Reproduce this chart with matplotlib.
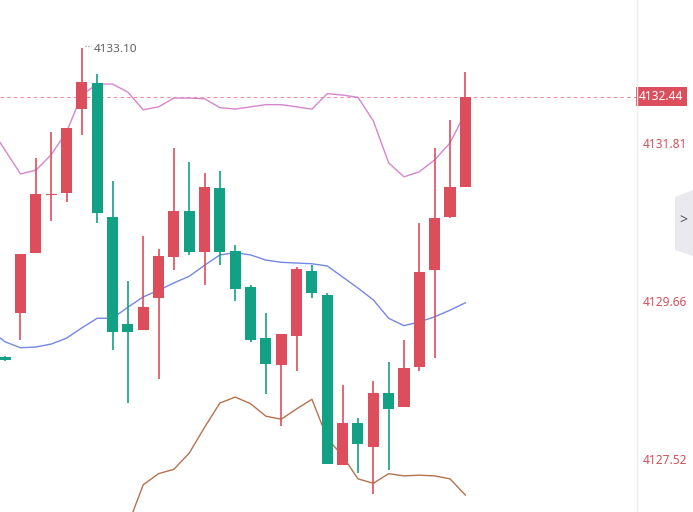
import matplotlib
matplotlib.use("Agg")
import matplotlib.pyplot as plt
import matplotlib.transforms as mtransforms
from matplotlib.patches import Rectangle, Polygon

plt.rcParams['font.family'] = ['Noto Sans', 'DejaVu Sans']

# ---- candle data (index 0 is the first full candle, -1 is cut at the left edge) ----
idx = list(range(-1, 30))
opens = [4128.90, 4129.50, 4130.32, 4131.10, 4131.13, 4132.27, 4132.62, 4130.81, 4129.35,
         4129.27, 4129.71, 4130.26, 4130.89, 4130.33, 4131.20, 4130.34, 4129.85, 4129.16,
         4128.80, 4129.19, 4130.07, 4129.75, 4127.44, 4128.01, 4127.68, 4128.42, 4128.23,
         4128.77, 4130.09, 4130.81, 4131.21]
highs = [4128.92, 4130.30, 4131.61, 4131.96, 4132.01, 4133.10, 4132.75, 4131.29, 4129.94,
         4130.55, 4130.37, 4131.74, 4131.55, 4131.40, 4131.43, 4130.43, 4129.88, 4129.50,
         4129.22, 4130.13, 4130.15, 4129.77, 4128.52, 4128.08, 4128.58, 4128.84, 4129.14,
         4130.72, 4131.74, 4132.12, 4132.77]
lows = [4128.85, 4129.14, 4130.32, 4130.75, 4131.01, 4131.92, 4130.72, 4129.00, 4128.28,
        4129.27, 4128.61, 4130.09, 4130.29, 4129.88, 4130.15, 4129.66, 4129.11, 4128.40,
        4127.97, 4128.71, 4129.71, 4127.45, 4127.44, 4127.33, 4127.05, 4127.37, 4128.23,
        4128.72, 4128.89, 4130.79, 4131.21]
closes = [4128.86, 4130.30, 4131.12, 4131.11, 4132.01, 4132.64, 4130.86, 4129.24, 4129.24,
          4129.58, 4130.28, 4130.89, 4130.33, 4131.21, 4130.33, 4129.83, 4129.14, 4128.81,
          4129.22, 4130.10, 4129.77, 4127.45, 4128.01, 4127.72, 4128.42, 4128.20, 4128.76,
          4130.06, 4130.79, 4131.21, 4132.44]

# ---- bollinger bands ----
band_idx = list(range(-2, 30))
upper = [4132.03, 4131.71, 4131.39, 4131.44, 4131.65, 4131.96, 4132.46, 4132.61, 4132.61,
         4132.50, 4132.26, 4132.30, 4132.42, 4132.42, 4132.41, 4132.29, 4132.27, 4132.30,
         4132.33, 4132.33, 4132.30, 4132.27, 4132.48, 4132.46, 4132.43, 4132.11, 4131.54,
         4131.35, 4131.42, 4131.58, 4131.81, 4132.22]
middle = [4129.27, 4129.11, 4129.03, 4129.04, 4129.08, 4129.16, 4129.30, 4129.43, 4129.43,
          4129.58, 4129.72, 4129.81, 4129.91, 4130.00, 4130.15, 4130.29, 4130.32, 4130.29,
          4130.22, 4130.19, 4130.18, 4130.17, 4130.14, 4129.99, 4129.84, 4129.68, 4129.43,
          4129.33, 4129.38, 4129.45, 4129.54, 4129.64]
lower_idx = list(range(7, 30))
lower = [4126.62, 4127.17, 4127.32, 4127.38, 4127.60, 4127.95, 4128.28, 4128.36, 4128.27,
         4128.10, 4128.06, 4128.20, 4128.33, 4127.80, 4127.56, 4127.25, 4127.19, 4127.32,
         4127.29, 4127.30, 4127.29, 4127.25, 4127.03]

tick_vals = [4131.81, 4129.66, 4127.52]
last_price = 4132.44
peak_label = '4133.10'

RED = '#dd4e5c'
GREEN = '#13a185'

fig = plt.figure(figsize=(6.93, 5.12), dpi=100)
ax = fig.add_axes([0, 0, 637 / 693, 1])

body_w = 0.72
for i, o, h, l, c in zip(idx, opens, highs, lows, closes):
    col = RED if c >= o else GREEN
    ax.vlines(i, l, h, color=col, linewidth=1.2, zorder=3)
    bot = min(o, c)
    hgt = max(abs(c - o), 0.02)
    ax.add_patch(Rectangle((i - body_w / 2, bot), body_w, hgt, facecolor=col,
                           edgecolor='none', zorder=4))

ax.plot(band_idx, upper, color='#d686cf', linewidth=1.0, zorder=2)
ax.plot(band_idx, middle, color='#7487e4', linewidth=1.0, zorder=2)
ax.plot(lower_idx, lower, color='#b5724f', linewidth=1.0, zorder=2)

# last price dashed line
ax.axhline(last_price, color='#f28c9c', linewidth=0.8, linestyle=(0, (3, 3)), zorder=1)

# peak annotation
ax.plot([4.2, 4.6], [4133.12, 4133.12], color='#888888', linewidth=0.8,
        linestyle=(0, (1, 1.5)), zorder=5)
ax.text(4.75, 4133.08, peak_label, color='#606060', fontsize=8.4, va='center', ha='left')

ax.set_xlim(-1.336, 40.19)
ax.set_ylim(4126.80, 4133.751)
for s in ax.spines.values():
    s.set_visible(False)
ax.set_xticks([])
ax.yaxis.tick_right()
ax.set_yticks(tick_vals)
ax.set_yticklabels([f'{v:.2f}' for v in tick_vals])
ax.tick_params(axis='y', length=0, pad=4, labelsize=8.6, labelcolor='#d0505c')

# separator for price axis
fig.add_artist(plt.Line2D([637 / 693, 637 / 693], [0, 1], color='#eeeeee', linewidth=1))

# last price tag
trans = mtransforms.blended_transform_factory(ax.transAxes, ax.transData)
ax.text(1.0035, last_price, f'{last_price:.2f}', transform=trans, color='white',
        fontsize=8.6, va='center', ha='left', clip_on=False, zorder=6,
        bbox=dict(boxstyle='square,pad=0.25', facecolor=RED, edgecolor='none'))

# collapse tab on the right edge
tab = Polygon([[675 / 693, 1 - 197 / 512], [693 / 693, 1 - 190 / 512],
               [693 / 693, 1 - 256 / 512], [675 / 693, 1 - 250 / 512]],
              closed=True, transform=fig.transFigure, facecolor='#e9e9ee', edgecolor='none')
fig.add_artist(tab)
fig.text(683.5 / 693, 1 - 221 / 512, '>', color='#555555', fontsize=10,
         ha='center', va='center')

fig.savefig('out.png', dpi=100, facecolor='white')
